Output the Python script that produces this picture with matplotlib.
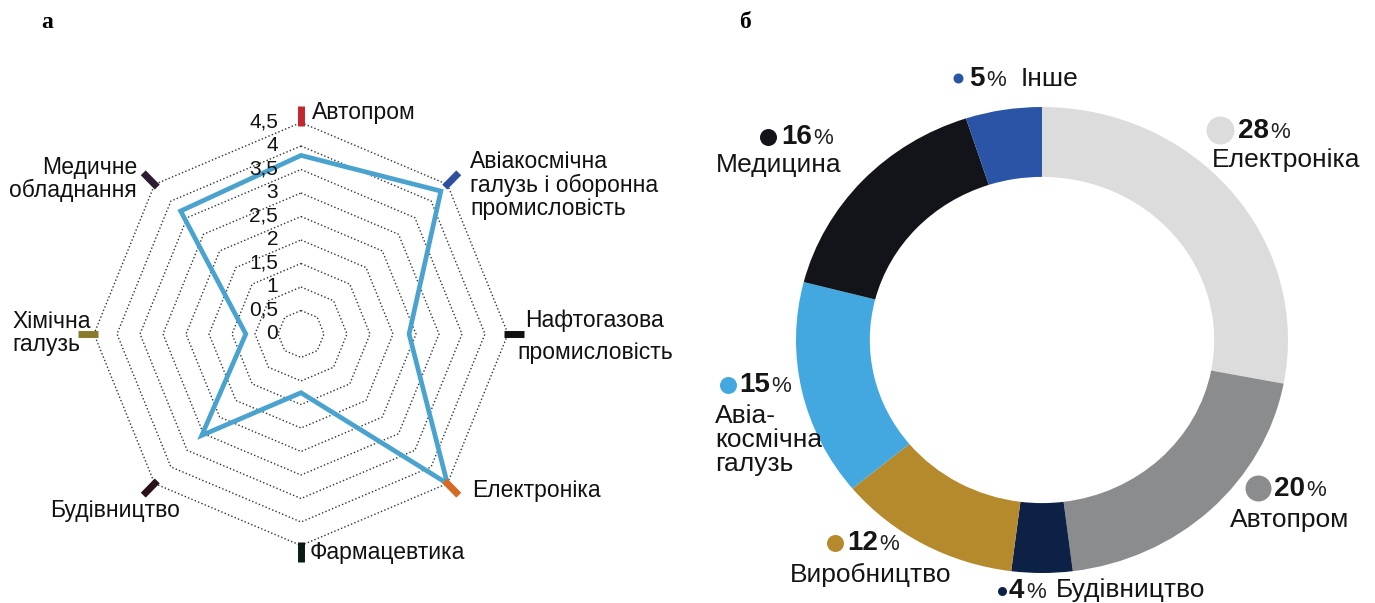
import numpy as np
import matplotlib
matplotlib.use("Agg")
import matplotlib.pyplot as plt
from matplotlib.patches import Polygon

plt.rcParams['font.family'] = ['Liberation Sans', 'DejaVu Sans']

# ---- radar data (panel а) ----
radar_labels = ['Автопром', 'Авіакосмічна\nгалузь і оборонна\nпромисловість', 'Нафтогазова',
                'Електроніка', 'Фармацевтика', 'Будівництво', 'Хімічна\nгалузь',
                'Медичне\nобладнання']
radar_values = [3.8, 4.3, 2.35, 4.5, 1.25, 3.05, 1.2, 3.7]
marker_colors = ['#c3262e', '#2c4f9e', '#111111', '#d46a24', '#0d1a18', '#2a1218',
                 '#8c7a2c', '#2e1a32']
ring_levels = [0.5, 1, 1.5, 2, 2.5, 3, 3.5, 4, 4.5]
tick_values = [0, 0.5, 1, 1.5, 2, 2.5, 3, 3.5, 4, 4.5]
tick_labels = ['0', '0,5', '1', '1,5', '2', '2,5', '3', '3,5', '4', '4,5']

# ---- donut data (panel б) ----
donut_labels = ['Електроніка', 'Автопром', 'Будівництво', 'Виробництво',
                'Авіа-\nкосмічна\nгалузь', 'Медицина', 'Інше']
donut_values = [28, 20, 4, 12, 15, 16, 5]
donut_colors = ['#dcdcdc', '#8b8c8e', '#0d2147', '#b58a2d', '#42a8df', '#121419', '#2a55a6']

W, H = 1375, 603
fig = plt.figure(figsize=(W / 100, H / 100), dpi=100)


def fx(x):
    return x / W


def fy(y):
    return 1 - y / H


# ================= radar =================
cx, cy = 301, 334          # centre in pixels
sx, sy = 46.0, 47.0        # pixels per unit
ax1 = fig.add_axes([0, 0, 0.5, 1])
ax1.set_xlim(-cx / sx, (W * 0.5 - cx) / sx)
ax1.set_ylim(-(H - cy) / sy, cy / sy)
ax1.axis('off')

n = len(radar_labels)
angles = np.pi / 2 - np.arange(n) * 2 * np.pi / n
ca, sa = np.round(np.cos(angles), 12), np.round(np.sin(angles), 12)

for r in ring_levels:
    ring = Polygon(np.column_stack([r * ca, r * sa]), closed=True, fill=False,
                   edgecolor='#333333', lw=1.0, ls=(0, (1, 1.6)), zorder=1)
    ax1.add_patch(ring)

vals = np.array(radar_values)
line = Polygon(np.column_stack([vals * ca, vals * sa]), closed=True, fill=False,
               edgecolor='#4aa3cf', lw=3.4, joinstyle='miter', zorder=3)
ax1.add_patch(line)

for i in range(n):
    r0, r1 = 4.42, 4.85
    ax1.plot([r0 * ca[i], r1 * ca[i]], [r0 * sa[i], r1 * sa[i]],
             color=marker_colors[i], lw=5, solid_capstyle='butt', zorder=4)

for v, t in zip(tick_values, tick_labels):
    ax1.text(-0.5, v + 0.02, t, ha='right', va='center', fontsize=15,
             color='#111111', zorder=5)

lab_pos = [(312, 113, 'left'), (470, 185, 'left'), (525, 321, 'left'), (472, 491, 'left'),
           (310, 552, 'left'), (180, 510, 'right'), (12, 333, 'left'), (137, 179, 'right')]
for (x, y, ha), t in zip(lab_pos, radar_labels):
    fig.text(fx(x), fy(y), t, ha=ha, va='center', fontsize=16.5, linespacing=1.0,
             color='#111111')
fig.text(fx(517), fy(352), 'промисловість', ha='left', va='center', fontsize=16.5,
         color='#111111')

fig.text(fx(47), fy(22), 'а', ha='center', va='center', fontsize=17,
         fontweight='bold', family='Liberation Serif')
fig.text(fx(745), fy(22), 'б', ha='center', va='center', fontsize=17,
         fontweight='bold', family='Liberation Serif')

# ================= donut =================
dcx, dcy = 1042, 340
dsx, dsy = 246.0, 233.0
ax2 = fig.add_axes([0.5, 0, 0.5, 1])
ax2.pie(donut_values, colors=donut_colors, startangle=90, counterclock=False,
        radius=1, wedgeprops=dict(width=0.3, linewidth=0))
ax2.set_aspect('auto')
ax2.set_xlim(-(dcx - W * 0.5) / dsx, (W - dcx) / dsx)
ax2.set_ylim(-(H - dcy) / dsy, dcy / dsy)
ax2.axis('off')

# label layout: dot position, dot size, percent text position, name position
dot_pos = [(1220, 130), (1258, 488), (1002, 591), (835, 543), (728, 385), (768, 137), (958, 78)]
dot_size = [28, 26, 9, 17, 17, 17, 10]
pct_pos = [(1238, 131), (1274, 489), (1009, 591), (847, 543), (739, 385), (781, 137), (969, 79)]
name_pos = [(1212, 160), (1230, 520), (1056, 590), (790, 575),
            (715, 440), (716, 165), (1021, 79)]

for i, v in enumerate(donut_values):
    x, y = dot_pos[i]
    ax2.plot([(x - dcx) / dsx], [(dcy - y) / dsy], marker='o', ls='none',
             ms=dot_size[i] * 0.72, color=donut_colors[i], mec='none', clip_on=False)
    px, py = pct_pos[i]
    t = fig.text(fx(px), fy(py), str(v), ha='left', va='center', fontsize=20,
                 fontweight='bold', color='#151515')
    ax2.annotate('%', xy=(1, 0), xycoords=t, xytext=(1, 1), textcoords='offset points',
                 ha='left', va='bottom', fontsize=16, color='#222222')
    nx, ny = name_pos[i]
    fig.text(fx(nx), fy(ny), donut_labels[i], ha='left', va='center', fontsize=19,
             linespacing=1.0, color='#151515')

fig.savefig('out.png', dpi=100)
